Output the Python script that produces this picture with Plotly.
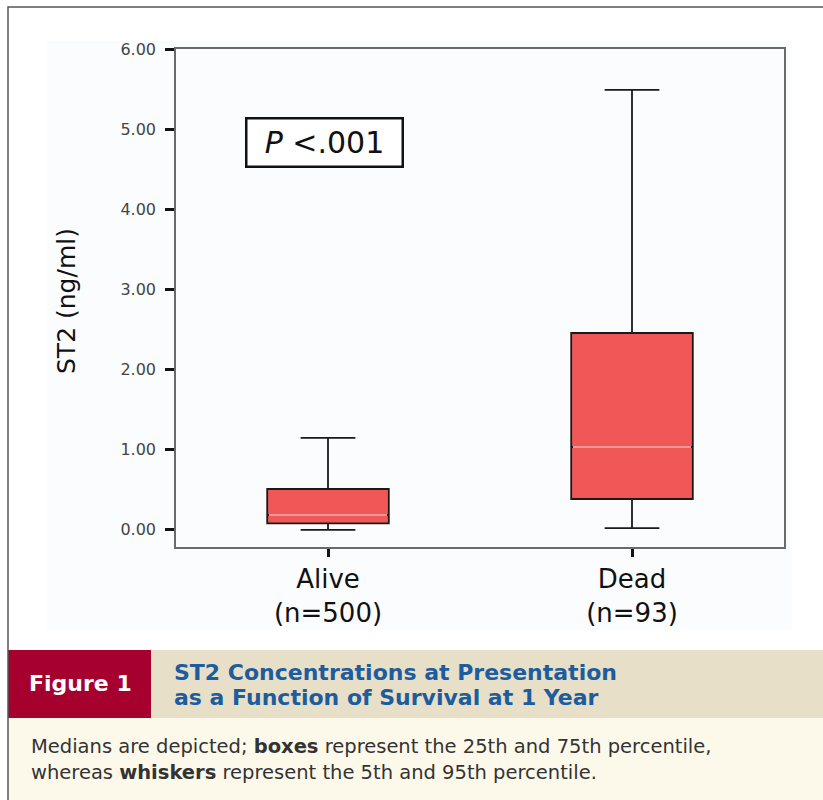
import plotly.graph_objects as go

# ---- data ----
groups = ["Alive", "Dead"]
group_n = [500, 93]
p5 = [-0.01, 0.01]
q1 = [0.07, 0.375]
median = [0.175, 1.025]
q3 = [0.50, 2.45]
p95 = [1.14, 5.49]
y_ticks = [0, 1, 2, 3, 4, 5, 6]

W, H = 823, 800
L, R, T, B = 176, 39, 49, 253
PW, PH = W - L - R, H - T - B


def px(x):
    return (x - L) / PW


def py(y):
    return (H - B - y) / PH


xpos = list(range(len(groups)))
box_w = 0.4
box_fill = "#f05858"

fig = go.Figure()
fig.add_trace(go.Box(
    x=xpos, q1=q1, median=median, q3=q3,
    lowerfence=p5, upperfence=p95,
    width=box_w, whiskerwidth=0.45,
    fillcolor=box_fill, line=dict(color="#1a1a1a", width=1.8),
    boxpoints=False, hoverinfo="skip", showlegend=False,
))

# light median lines drawn over the box (cover default dark median first)
mx, my = [], []
for i, m in zip(xpos, median):
    mx += [i - box_w / 2 + 0.006, i + box_w / 2 - 0.006, None]
    my += [m, m, None]
fig.add_trace(go.Scatter(x=mx, y=my, mode="lines",
                         line=dict(color=box_fill, width=3.2),
                         hoverinfo="skip", showlegend=False))
fig.add_trace(go.Scatter(x=mx, y=my, mode="lines",
                         line=dict(color="#fbd6d6", width=1.1),
                         hoverinfo="skip", showlegend=False))

tick_text = [f"{g}<br>(n={n})" for g, n in zip(groups, group_n)]

fig.update_layout(
    width=W, height=H,
    margin=dict(l=L, r=R, t=T, b=B),
    paper_bgcolor="white",
    plot_bgcolor="#fbfcfd",
    font=dict(family="DejaVu Sans, Arial", color="#222"),
    xaxis=dict(range=[-0.5, 1.5], tickvals=xpos, ticktext=tick_text,
               showgrid=False, zeroline=False, showline=True, mirror=True,
               linecolor="#6a6a6a", linewidth=1.5,
               ticks="outside", ticklen=8, tickwidth=3, tickcolor="#111",
               tickfont=dict(family="DejaVu Sans, Arial", size=26, color="#111")),
    yaxis=dict(range=[-0.225, 6.0], tickvals=y_ticks,
               ticktext=[f"{v:.2f}" for v in y_ticks],
               showgrid=False, zeroline=False, showline=True, mirror=True,
               linecolor="#6a6a6a", linewidth=1.5,
               ticks="outside", ticklen=9, tickwidth=3, tickcolor="#111",
               ticklabelstandoff=6,
               tickfont=dict(family="DejaVu Sans, Arial", size=16, color="#444")),
)

shapes = [
    # faint panel
    dict(type="rect", xref="paper", yref="paper", layer="below",
         x0=px(47), x1=px(792), y0=py(630), y1=py(41),
         fillcolor="#fbfcfd", line=dict(width=0)),
    # caption band
    dict(type="rect", xref="paper", yref="paper",
         x0=px(8), x1=px(823), y0=py(718), y1=py(650),
         fillcolor="#e7dfc7", line=dict(width=0)),
    dict(type="rect", xref="paper", yref="paper",
         x0=px(8), x1=px(151), y0=py(718), y1=py(650),
         fillcolor="#a6002f", line=dict(width=0)),
    dict(type="rect", xref="paper", yref="paper",
         x0=px(8), x1=px(823), y0=py(800), y1=py(718),
         fillcolor="#fdf9ea", line=dict(width=0)),
    # outer border
    dict(type="rect", xref="paper", yref="paper",
         x0=px(8), x1=px(824), y0=py(802), y1=py(7),
         fillcolor="rgba(0,0,0,0)", line=dict(color="#555", width=1.5)),
]


def ann(text, x, y, size, color, family="DejaVu Sans, Arial", xanchor="center", **kw):
    d = dict(text=text, xref="paper", yref="paper", x=px(x), y=py(y),
             xanchor=xanchor, yanchor="middle", showarrow=False,
             font=dict(family=family, size=size, color=color))
    d.update(kw)
    return d


annotations = [
    ann("ST2 (ng/ml)", 66, 301, 25, "#111", textangle=-90),
    ann("<i>P</i> <.001", 324.5, 142, 30, "#111",
        width=150, height=42, borderpad=2,
        bordercolor="#111", borderwidth=2.5, bgcolor="white"),
    ann("<b>Figure 1</b>", 80, 684, 22, "white", family="DejaVu Sans, Arial"),
    ann("<b>ST2 Concentrations at Presentation</b>", 172, 672, 22, "#1d5c9d",
        xanchor="left", align="left"),
    ann("<b>as a Function of Survival at 1 Year</b>", 172, 697, 22, "#1d5c9d",
        xanchor="left", align="left"),
    ann("Medians are depicted; <b>boxes</b> represent the 25th and 75th percentile,",
        29, 746, 19.5, "#333", xanchor="left", align="left"),
    ann("whereas <b>whiskers</b> represent the 5th and 95th percentile.",
        29, 772, 19.5, "#333", xanchor="left", align="left"),
]

fig.update_layout(shapes=shapes, annotations=annotations)
fig.write_html("out.html")
